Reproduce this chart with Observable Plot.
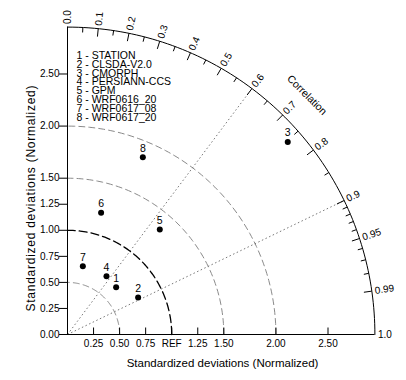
<!DOCTYPE html>
<html>
<head>
<meta charset="utf-8">
<script src="https://cdn.jsdelivr.net/npm/d3@7"></script>
<script src="https://cdn.jsdelivr.net/npm/@observablehq/plot@0.6"></script>
<style>
  html, body { margin: 0; padding: 0; background: white; }
</style>
</head>
<body>
<div id="chart"></div>
<script>
// ---- data ----
const ids = [1, 2, 3, 4, 5, 6, 7, 8];
const names = ["STATION", "CLSDA-V2.0", "CMORPH", "PERSIANN-CCS", "GPM", "WRF0616_20", "WRF0617_08", "WRF0617_20"];
const stdNorm = [0.651, 0.765, 2.807, 0.673, 1.342, 1.212, 0.672, 1.849];
const corrVals = [0.717, 0.886, 0.753, 0.556, 0.660, 0.266, 0.219, 0.391];

const xTicks = [0.25, 0.5, 0.75, 1.0, 1.25, 1.5, 2.0, 2.5];
const yTicks = [0, 0.25, 0.5, 0.75, 1.0, 1.25, 1.5, 2.0, 2.5];
const corrMajor = [0.0, 0.1, 0.2, 0.3, 0.4, 0.5, 0.6, 0.7, 0.8, 0.9, 0.95, 0.99, 1.0];
const corrMajorLabels = ["0.0", "0.1", "0.2", "0.3", "0.4", "0.5", "0.6", "0.7", "0.8", "0.9", "0.95", "0.99", "1.0"];
const corrMinor = [0.05, 0.15, 0.25, 0.35, 0.45, 0.55, 0.65, 0.75, 0.85, 0.91, 0.92, 0.93, 0.94, 0.96, 0.97, 0.98];
const stdArcs = [0.5, 1.5, 2.0];
const refStd = 1.0;
const corrLines = [0.6, 0.9];
const maxStd = 2.95;
const axisTitle = "Standardized deviations (Normalized)";
const corrTitle = "Correlation";

// ---- layout ----
const W = 406, H = 380;
const mL = 67, mB = 46, mT = 26.6;
const k = (H - mB - mT) / maxStd;           // px per unit
const mR = W - mL - maxStd * k;

const rad = c => Math.acos(c);
const arc = r => d3.range(0, 91).map(a => ({x: r * Math.cos(a * Math.PI / 180), y: r * Math.sin(a * Math.PI / 180), r}));

const pts = ids.map((id, i) => ({
  id,
  x: stdNorm[i] * corrVals[i],
  y: stdNorm[i] * Math.sqrt(1 - corrVals[i] * corrVals[i])
}));

const tickSeg = (list, len) => list.map(c => {
  const a = rad(c);
  return {x1: maxStd * Math.cos(a), y1: maxStd * Math.sin(a),
          x2: (maxStd - len / k) * Math.cos(a), y2: (maxStd - len / k) * Math.sin(a)};
});

const labPad = 3 / k;
const corrLab = corrMajor.map((c, i) => {
  const a = rad(c);
  return {x: (maxStd + labPad) * Math.cos(a), y: (maxStd + labPad) * Math.sin(a),
          rot: -a * 180 / Math.PI, t: corrMajorLabels[i]};
});

const legendText = ids.map((id, i) => `${id} - ${names[i]}`).join("\n");

const chart = Plot.plot({
  width: W, height: H,
  marginLeft: mL, marginRight: mR, marginTop: mT, marginBottom: mB,
  style: {fontFamily: "Liberation Sans, Arial, sans-serif", fontSize: "10px", background: "white", color: "black"},
  x: {domain: [0, maxStd], ticks: xTicks, tickFormat: d => d === 1 ? "REF" : d3.format(".2f")(d), tickSize: 0, tickPadding: 5, label: null},
  y: {domain: [0, maxStd], ticks: yTicks, tickFormat: d3.format(".2f"), tickSize: 8, tickPadding: 0, label: null},
  marks: [
    // std dev arcs
    Plot.line(stdArcs.flatMap(arc), {x: "x", y: "y", z: "r", stroke: "#8a8a8a", strokeWidth: 1, strokeDasharray: "6,4"}),
    Plot.line(arc(refStd), {x: "x", y: "y", stroke: "black", strokeWidth: 1.3, strokeDasharray: "8,4"}),
    // correlation radial lines
    Plot.link(corrLines, {x1: 0, y1: 0, x2: c => maxStd * c, y2: c => maxStd * Math.sqrt(1 - c * c), stroke: "#777", strokeWidth: 1, strokeDasharray: "1.5,2.5"}),
    // outer arc
    Plot.line(arc(maxStd), {x: "x", y: "y", stroke: "black", strokeWidth: 1}),
    // axes lines
    Plot.ruleY([0], {stroke: "black"}),
    Plot.ruleX([0], {stroke: "black"}),
    // x ticks pointing up
    Plot.link(xTicks, {x1: d => d, x2: d => d, y1: 0, y2: 7 / k, stroke: "black"}),
    // correlation ticks
    Plot.link(tickSeg(corrMajor.slice(1, -1), 8), {x1: "x1", y1: "y1", x2: "x2", y2: "y2", stroke: "black"}),
    Plot.link(tickSeg(corrMinor, 5), {x1: "x1", y1: "y1", x2: "x2", y2: "y2", stroke: "black"}),
    // correlation labels
    Plot.text(corrLab, {x: "x", y: "y", text: "t", rotate: "rot", textAnchor: "start", fontSize: 10, fill: "black"}),
    Plot.text([corrTitle], {x: () => 3.25 * Math.cos(Math.PI / 4), y: () => 3.25 * Math.sin(Math.PI / 4), text: d => d, rotate: 45, fontSize: 10.5, fill: "black"}),
    // points
    Plot.dot(pts, {x: "x", y: "y", r: 3, fill: "black"}),
    Plot.text(pts, {x: "x", y: "y", text: "id", dy: -9, fontSize: 10.5, fill: "black"}),
    // legend
    Plot.text([legendText], {frameAnchor: "top-left", text: d => d, dx: 9, dy: 25.5, textAnchor: "start", lineAnchor: "top", lineHeight: 0.844, fontSize: 10.5, fill: "black"}),
    // axis titles
    Plot.text([axisTitle], {x: () => (222 - mL) / k, y: () => -(362.5 - (H - mB)) / k, text: d => d, fontSize: 11.5, fill: "black"}),
    Plot.text([axisTitle], {x: () => -(mL - 31) / k, y: () => ((H - mB) - 198) / k, text: d => d, rotate: -90, fontSize: 12, fill: "black"})
  ]
});
document.getElementById("chart").appendChild(chart);
// stretch the vertical title to the reference's length
d3.select(chart).selectAll("text").filter(function () {
  return this.textContent === axisTitle && (this.getAttribute("transform") || "").includes("rotate");
}).attr("textLength", 226).attr("lengthAdjust", "spacing");
</script>
</body>
</html>
